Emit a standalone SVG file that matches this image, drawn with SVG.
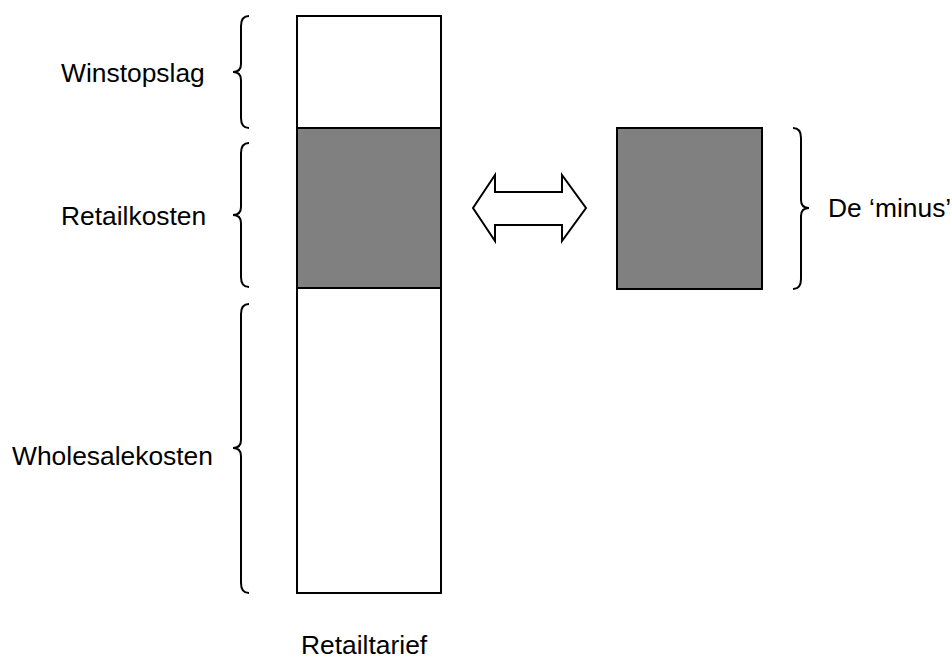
<svg xmlns="http://www.w3.org/2000/svg" width="952" height="661" viewBox="0 0 952 661">
<style>
text{font-family:"Liberation Sans",Arial,sans-serif;font-size:26.4px;fill:#000}
.box{stroke:#000;stroke-width:2}
.white{fill:#fff}
.grey{fill:#808080}
.brace{fill:none;stroke:#000;stroke-width:2}
</style>
<rect width="952" height="661" fill="#fff"/>
<g id="column">
<rect class="box white" x="297" y="16" width="144" height="112"/>
<rect class="box grey" x="297" y="128" width="144" height="160"/>
<rect class="box white" x="297" y="288" width="144" height="305"/>
</g>
<g id="minus-box">
<rect class="box grey" x="617" y="128" width="145" height="161"/>
</g>
<g id="braces">
<path class="brace" d="M249,16 Q241,16 241,26 L241,64 Q241,72 233,72 Q241,72 241,80 L241,118 Q241,128 249,128"/>
<path class="brace" d="M249,143 Q241,143 241,153 L241,207 Q241,215 233,215 Q241,215 241,223 L241,277 Q241,287 249,287"/>
<path class="brace" d="M249,304 Q241,304 241,314 L241,440 Q241,448 233,448 Q241,448 241,456 L241,583 Q241,593 249,593"/>
<path class="brace" d="M793,128 Q801,128 801,138 L801,200 Q801,208 809,208 Q801,208 801,216 L801,279 Q801,289 793,289"/>
</g>
<g id="connectors">
<path class="box white" d="M473,208 L495,175 L495,192 L562,192 L562,175 L586,208 L562,241 L562,225 L495,225 L495,241 Z"/>
</g>
<g id="labels">
<text x="61" y="82">Winstopslag</text>
<text x="61" y="225">Retailkosten</text>
<text x="12" y="465">Wholesalekosten</text>
<text x="828" y="217">De ‘minus’</text>
<text x="301" y="654">Retailtarief</text>
</g>
</svg>
